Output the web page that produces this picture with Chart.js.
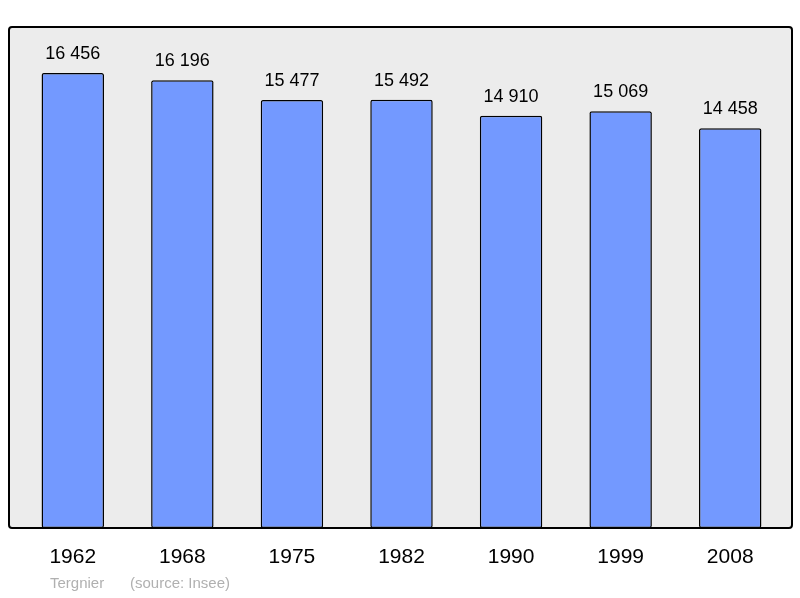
<!DOCTYPE html>
<html>
<head>
<meta charset="UTF-8">
<script src="https://cdn.jsdelivr.net/npm/chart.js"></script>
<style>
  body { margin: 0; background: #fff; }
  #wrap { width: 800px; height: 598px; }
</style>
</head>
<body>
<div id="wrap"><canvas id="c"></canvas></div>
<script>
const years = ["1962", "1968", "1975", "1982", "1990", "1999", "2008"];
const population = [16456, 16196, 15477, 15492, 14910, 15069, 14458];
const commune = "Tergnier";
const source = "(source: Insee)";

const fmt = v => String(v).replace(/\B(?=(\d{3})+(?!\d))/g, " ");

const decor = {
  id: "decor",
  beforeDraw(chart) {
    const ctx = chart.ctx;
    ctx.save();
    ctx.fillStyle = "#ececec";
    ctx.strokeStyle = "#000";
    ctx.lineWidth = 2;
    ctx.beginPath();
    ctx.roundRect(9, 27, 783, 501, 3);
    ctx.fill();
    ctx.stroke();
    ctx.restore();
  },
  afterDatasetsDraw(chart) {
    const ctx = chart.ctx;
    const x = chart.scales.x, y = chart.scales.y;
    ctx.save();
    ctx.textAlign = "center";
    ctx.fillStyle = "#000";
    ctx.font = "18px 'Liberation Sans', Arial, sans-serif";
    ctx.textBaseline = "bottom";
    population.forEach((v, i) => {
      ctx.fillText(fmt(v), x.getPixelForValue(i), y.getPixelForValue(v) - 10);
    });
    ctx.font = "21px 'Liberation Sans', Arial, sans-serif";
    ctx.textBaseline = "middle";
    years.forEach((t, i) => ctx.fillText(t, x.getPixelForValue(i), 557));
    ctx.textAlign = "left";
    ctx.fillStyle = "#b0b0b0";
    ctx.font = "15px 'Liberation Sans', Arial, sans-serif";
    ctx.fillText(commune, 50, 584);
    ctx.fillText(source, 130, 584);
    ctx.restore();
  }
};

new Chart(document.getElementById("c"), {
  type: "bar",
  data: {
    labels: years,
    datasets: [{
      data: population,
      backgroundColor: "#7399ff",
      borderColor: "#000",
      borderWidth: 1.5,
      borderRadius: 2,
      borderSkipped: false,
      barPercentage: 0.57,
      categoryPercentage: 1
    }]
  },
  options: {
    responsive: true,
    maintainAspectRatio: false,
    animation: false,
    layout: { padding: { left: 18, right: 15, top: 27, bottom: 70 } },
    plugins: { legend: { display: false }, tooltip: { enabled: false } },
    scales: {
      x: { display: false },
      y: { display: false, min: 0, max: 18120 }
    }
  },
  plugins: [decor]
});
</script>
</body>
</html>
